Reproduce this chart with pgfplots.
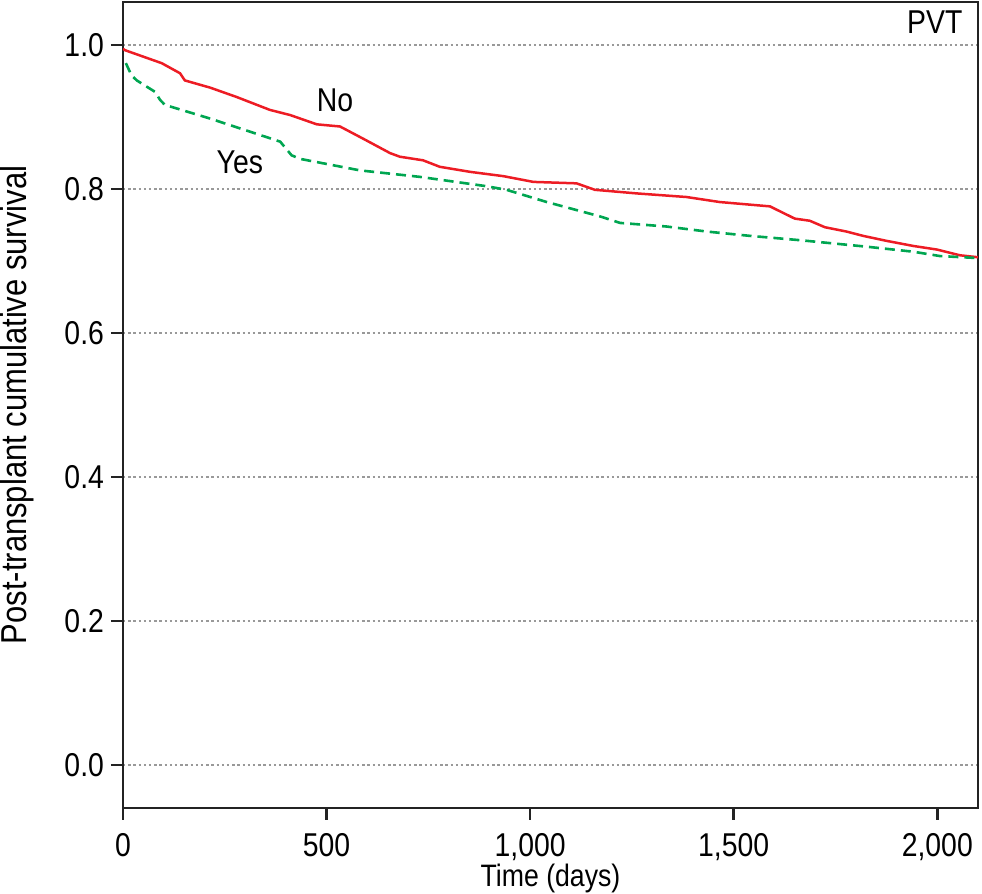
\documentclass[border=0pt]{standalone}
\usepackage{fontspec}
\setmainfont{Liberation Sans}[FakeStretch=0.86]
\usepackage{pgfplots}
\pgfplotsset{compat=1.18}

\definecolor{kmred}{RGB}{237,28,36}
\definecolor{kmgreen}{RGB}{0,166,81}
\definecolor{frame}{RGB}{35,35,35}

\begin{document}
\begin{tikzpicture}[font=\fontsize{16.5}{19}\selectfont]
    \begin{axis}[
        name=ax,
        scale only axis,
        width=427.5pt, height=403pt,
        xmin=0, xmax=2100,
        ymin=-0.06, ymax=1.06,
        xtick={0,500,1000,1500,2000},
        ytick={0,0.2,0.4,0.6,0.8,1.0},
        xtick pos=bottom, ytick pos=left,
        tick align=outside,
        major tick length=6pt,
        tick style={frame, line width=1.3pt},
        axis line style={frame, line width=1.3pt},
        ymajorgrids,
        major grid style={gray!80, line width=1.1pt, dash pattern=on 1.2pt off 1.4pt},
        /pgf/number format/assume math mode=true,
        x tick label style={/pgf/number format/1000 sep={,}, yshift=-3pt},
        y tick label style={/pgf/number format/.cd, fixed, fixed zerofill, precision=1},
        xlabel={Time (days)},
        ylabel={Post-transplant cumulative survival},
        xlabel style={at={(axis description cs:0.5,-0.0968)}, anchor=base,
            font=\fontsize{15.5}{18}\selectfont},
        ylabel style={at={(axis description cs:-0.1235,0.5)}, anchor=center,
            font=\fontsize{18}{21}\selectfont},
    ]

    % No PVT
    \addplot [kmred, line width=1.25pt] coordinates {
        (0,0.995) (5,0.993) (50,0.984) (95,0.975) (140,0.961) (152,0.951)
        (214,0.941) (279,0.928) (361,0.910) (410,0.903) (476,0.890)
        (533,0.887) (590,0.870) (656,0.850) (680,0.845) (737,0.840)
        (778,0.831) (852,0.824) (934,0.818) (1008,0.810) (1114,0.808)
        (1159,0.799) (1262,0.794) (1384,0.789) (1466,0.782) (1589,0.776)
        (1614,0.769) (1650,0.759) (1687,0.756) (1724,0.747) (1777,0.741)
        (1818,0.735) (1876,0.728) (1941,0.721) (1999,0.716) (2056,0.708)
        (2105,0.705)
    };

    % PVT
    \addplot [kmgreen, line width=1.3pt, dash pattern=on 5pt off 3pt] coordinates {
        (7,0.975) (21,0.958) (34,0.951) (79,0.935) (91,0.924) (103,0.917)
        (214,0.898) (386,0.866) (414,0.847) (435,0.842) (582,0.826)
        (729,0.817) (893,0.804) (942,0.799) (1041,0.782) (1172,0.762)
        (1221,0.753) (1335,0.748) (1434,0.741) (1540,0.735) (1663,0.729)
        (1826,0.720) (1941,0.713) (2006,0.707) (2105,0.704)
    };

    \node at (axis cs:521,0.924) {No};
    \node at (axis cs:287,0.8375) {Yes};
    \node at (axis cs:1994,1.032) {PVT};
    \end{axis}
    \pgfresetboundingbox
    \useasboundingbox ([shift={(-61.5pt,-43pt)}]ax.south west) rectangle ([shift={(429.5pt,404pt)}]ax.south west);
\end{tikzpicture}
\end{document}
